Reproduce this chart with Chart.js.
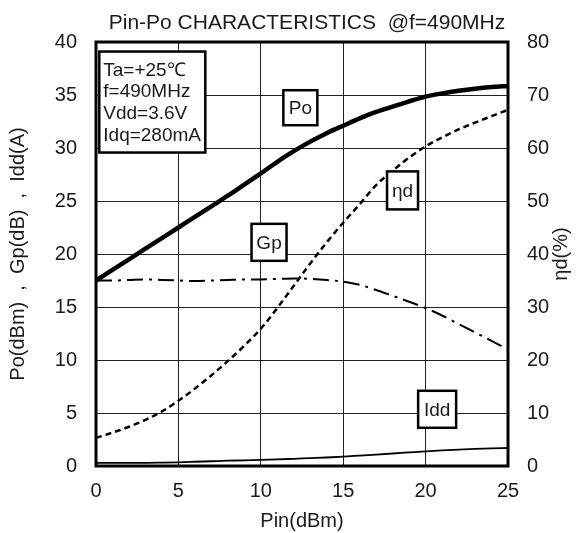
<!DOCTYPE html>
<html>
<head>
<meta charset="utf-8">
<script src="https://cdn.jsdelivr.net/npm/chart.js@4/dist/chart.umd.min.js"></script>
<style>
    html, body { margin: 0; padding: 0; background: #fff; }
</style>
</head>
<body>
<canvas id="pinPoChart" width="576" height="533"></canvas>
<script>
// Входная мощность, дБм
const pinValues = [0, 1, 2, 3, 4, 5, 6, 7, 8, 9, 10, 11, 12, 13, 14, 15, 16, 17, 18, 19, 20, 21, 22, 23, 24, 25];
// Выходная мощность Po (dBm)
const poValues = [17.5, 18.5, 19.5, 20.5, 21.5, 22.5, 23.5, 24.5, 25.5, 26.55, 27.6, 28.7, 29.7, 30.6, 31.4, 32.1, 32.8, 33.4, 33.9, 34.4, 34.85, 35.15, 35.4, 35.6, 35.75, 35.85];
// Усиление Gp (dB)
const gpValues = [17.5, 17.5, 17.55, 17.6, 17.55, 17.5, 17.45, 17.5, 17.55, 17.6, 17.6, 17.65, 17.7, 17.65, 17.55, 17.4, 17.1, 16.6, 16.05, 15.5, 14.9, 14.2, 13.4, 12.6, 11.8, 11.0];
// КПД ηd (%), правая ось
const etaValues = [5.3, 6.3, 7.4, 8.7, 10.3, 12.3, 14.6, 17.1, 19.8, 22.7, 25.9, 29.8, 34.0, 38.2, 42.2, 45.9, 49.4, 53.0, 55.7, 58.2, 60.3, 62.0, 63.5, 64.8, 66.0, 67.2];
// Ток стока Idd (A)
const iddValues = [0.3, 0.3, 0.3, 0.3, 0.32, 0.35, 0.4, 0.45, 0.5, 0.53, 0.57, 0.62, 0.68, 0.74, 0.8, 0.88, 0.98, 1.08, 1.18, 1.28, 1.38, 1.47, 1.55, 1.61, 1.66, 1.7];

const conditionLines = ['Ta=+25℃', 'f=490MHz', 'Vdd=3.6V', 'Idq=280mA'];
const curveNames = ['Po', 'Gp', 'ηd', 'Idd'];
const chartTitle = 'Pin-Po CHARACTERISTICS  @f=490MHz';

const FONT = "'Liberation Sans', Arial, sans-serif";
const INK = '#1a1a1a';

function toPoints(values) {
    return pinValues.map((x, i) => ({ x: x, y: values[i] }));
}

// Заголовок, рамка, блок условий, подписи кривых и заголовок правой оси
const notesPlugin = {
    id: 'notes',
    afterDatasetsDraw(chart) {
        const ctx = chart.ctx;
        const area = chart.chartArea;
        const sx = chart.scales.x;
        const sy = chart.scales.y;

        ctx.save();
        ctx.fillStyle = INK;
        ctx.font = '21px ' + FONT;
        ctx.textAlign = 'center';
        ctx.textBaseline = 'alphabetic';
        ctx.fillText(chartTitle, 307, 29);

        ctx.strokeStyle = '#000';
        ctx.lineWidth = 3;
        ctx.strokeRect(area.left, area.top, area.right - area.left, area.bottom - area.top);

        // блок с условиями измерения
        const bx = sx.getPixelForValue(0.2);
        const by = sy.getPixelForValue(39.1);
        ctx.fillStyle = '#fff';
        ctx.fillRect(bx, by, 106, 101);
        ctx.lineWidth = 2.5;
        ctx.strokeRect(bx, by, 106, 101);
        ctx.fillStyle = INK;
        ctx.font = '19px ' + FONT;
        ctx.textAlign = 'left';
        conditionLines.forEach((line, i) => {
            ctx.fillText(line, bx + 4, by + 24 + i * 21.7);
        });

        // подписи кривых в рамках
        const anchors = [
            { x: 12.4, y: 33.8, w: 34, h: 35 },
            { x: 10.5, y: 21.1, w: 35, h: 37 },
            { x: 18.6, y: 26.0, w: 31, h: 38 },
            { x: 20.7, y: 5.35, w: 38, h: 37 }
        ];
        curveNames.forEach((name, i) => {
            const a = anchors[i];
            const cx = sx.getPixelForValue(a.x);
            const cy = sy.getPixelForValue(a.y);
            ctx.fillStyle = '#fff';
            ctx.fillRect(cx - a.w / 2, cy - a.h / 2, a.w, a.h);
            ctx.lineWidth = 2.5;
            ctx.strokeStyle = '#000';
            ctx.strokeRect(cx - a.w / 2, cy - a.h / 2, a.w, a.h);
            ctx.fillStyle = INK;
            ctx.textAlign = 'center';
            ctx.textBaseline = 'middle';
            ctx.fillText(name, cx, cy + 1);
        });

        // заголовок правой оси, читается снизу вверх
        ctx.translate(561, (area.top + area.bottom) / 2);
        ctx.rotate(-Math.PI / 2);
        ctx.font = '20px ' + FONT;
        ctx.fillText('ηd(%)', 0, 0);
        ctx.restore();
    }
};

const ctx = document.getElementById('pinPoChart').getContext('2d');
new Chart(ctx, {
    type: 'line',
    data: {
        datasets: [
            {
                label: 'Po',
                data: toPoints(poValues),
                borderColor: '#000',
                borderWidth: 4.5,
                pointRadius: 0,
                cubicInterpolationMode: 'monotone',
                yAxisID: 'y'
            },
            {
                label: 'Gp',
                data: toPoints(gpValues),
                borderColor: '#000',
                borderWidth: 2,
                borderDash: [16, 6, 3, 6],
                pointRadius: 0,
                cubicInterpolationMode: 'monotone',
                yAxisID: 'y'
            },
            {
                label: 'ηd',
                data: toPoints(etaValues),
                borderColor: '#000',
                borderWidth: 2.5,
                borderDash: [6, 4],
                pointRadius: 0,
                cubicInterpolationMode: 'monotone',
                yAxisID: 'y2'
            },
            {
                label: 'Idd',
                data: toPoints(iddValues),
                borderColor: '#000',
                borderWidth: 1.8,
                pointRadius: 0,
                cubicInterpolationMode: 'monotone',
                yAxisID: 'y'
            }
        ]
    },
    options: {
        responsive: false,
        animation: false,
        layout: { padding: { top: 42 } },
        scales: {
            x: {
                type: 'linear',
                min: 0,
                max: 25,
                ticks: {
                    stepSize: 5,
                    padding: 13,
                    color: INK,
                    font: { family: FONT, size: 20 }
                },
                grid: {
                    color: '#222',
                    lineWidth: 1,
                    drawTicks: false
                },
                border: { display: false },
                title: {
                    display: true,
                    text: 'Pin(dBm)',
                    color: INK,
                    padding: 0,
                    font: { family: FONT, size: 20 }
                },
                afterFit(scale) {
                    scale.height = 67;
                }
            },
            y: {
                position: 'left',
                min: 0,
                max: 40,
                ticks: {
                    stepSize: 5,
                    padding: 19,
                    color: INK,
                    font: { family: FONT, size: 20 }
                },
                grid: {
                    color: '#222',
                    lineWidth: 1,
                    drawTicks: false
                },
                border: { display: false },
                title: {
                    display: true,
                    text: 'Po(dBm)  ,  Gp(dB)  ,  Idd(A)',
                    color: INK,
                    padding: { top: 6, bottom: 0 },
                    font: { family: FONT, size: 20 }
                },
                afterFit(scale) {
                    scale.width = 96;
                }
            },
            y2: {
                position: 'right',
                min: 0,
                max: 80,
                ticks: {
                    stepSize: 10,
                    padding: 19,
                    color: INK,
                    font: { family: FONT, size: 20 }
                },
                grid: {
                    drawOnChartArea: false,
                    drawTicks: false
                },
                border: { display: false },
                afterFit(scale) {
                    scale.width = 68;
                }
            }
        },
        plugins: {
            legend: { display: false },
            tooltip: { enabled: false },
            title: { display: false }
        }
    },
    plugins: [notesPlugin]
});
</script>
</body>
</html>
